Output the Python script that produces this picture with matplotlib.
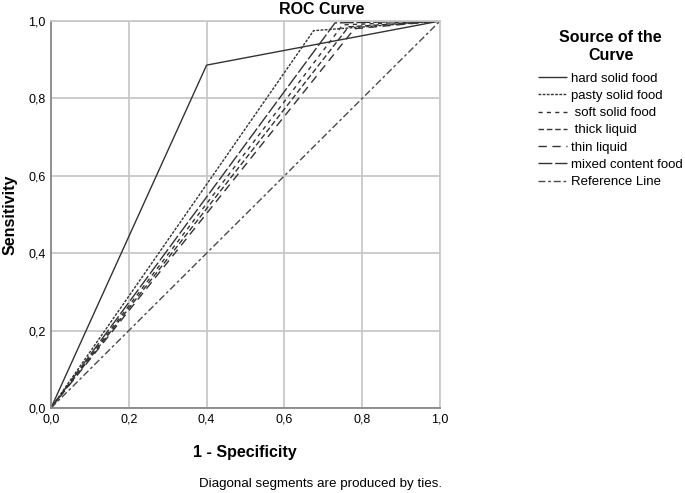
import matplotlib.pyplot as plt
from matplotlib.ticker import FuncFormatter

plt.rcParams['font.family'] = ['Liberation Sans', 'DejaVu Sans']

# ROC points (1 - specificity, sensitivity) for each source
curve_names = ["hard solid food", "pasty solid food", " soft solid food",
               " thick liquid", "thin liquid", "mixed content food"]
fpr_values = [
    [0.0, 0.40, 1.0],
    [0.0, 0.675, 1.0],
    [0.0, 0.75, 1.0],
    [0.0, 0.765, 1.0],
    [0.0, 0.78, 1.0],
    [0.0, 0.73, 1.0],
]
tpr_values = [
    [0.0, 0.886, 1.0],
    [0.0, 0.975, 1.0],
    [0.0, 0.99, 1.0],
    [0.0, 0.985, 1.0],
    [0.0, 0.98, 1.0],
    [0.0, 0.995, 1.0],
]
ref_x = [0.0, 1.0]
ref_y = [0.0, 1.0]
tick_values = [0.0, 0.2, 0.4, 0.6, 0.8, 1.0]

dash_styles = [
    (0, ()),
    (0, (2, 1)),
    (0, (3, 3)),
    (0, (4, 2)),
    (0, (6, 4)),
    (0, (10, 2)),
]

fig = plt.figure(figsize=(6.85, 4.93), dpi=100)
ax = fig.add_axes([51 / 685, 1 - 408 / 493, 389 / 685, 387 / 493])

lines = []
for name, xs, ys, ls in zip(curve_names, fpr_values, tpr_values, dash_styles):
    ln, = ax.plot(xs, ys, color='#333333', lw=1.0, linestyle=ls, label=name)
    lines.append(ln)
ln, = ax.plot(ref_x, ref_y, color='#4a4a4a', lw=1.0,
              linestyle=(0, (5, 2, 2, 2)), label="Reference Line")
lines.append(ln)

ax.set_xlim(0, 1)
ax.set_ylim(0, 1)
ax.set_xticks(tick_values)
ax.set_yticks(tick_values)
fmt = FuncFormatter(lambda v, p: f"{v:.1f}".replace('.', ','))
ax.xaxis.set_major_formatter(fmt)
ax.yaxis.set_major_formatter(fmt)
ax.tick_params(length=0, labelsize=9, pad=4, colors='black')
ax.grid(True, color='#c8c8c8', lw=1.3)
ax.set_axisbelow(True)
for side in ['top', 'right']:
    ax.spines[side].set_color('#c8c8c8')
    ax.spines[side].set_linewidth(1.3)
for side in ['left', 'bottom']:
    ax.spines[side].set_color('#888888')
    ax.spines[side].set_linewidth(1.3)

fig.text(322 / 685, 1 - 9 / 493, "ROC Curve", ha='center', va='center',
         fontsize=11.5, fontweight='bold')
fig.text(10 / 685, 1 - 215 / 493, "Sensitivity", ha='center', va='center',
         rotation=90, fontsize=11.5, fontweight='bold')
fig.text(245 / 685, 1 - 452 / 493, "1 - Specificity", ha='center', va='center',
         fontsize=11.5, fontweight='bold')
fig.text(321 / 685, 1 - 484 / 493, "Diagonal segments are produced by ties.",
         ha='center', va='center', fontsize=9.6)

leg = fig.legend(handles=lines, loc='upper left',
                 bbox_to_anchor=(533 / 685, 1 - 25 / 493),
                 title="Source of the\nCurve", frameon=False, fontsize=9.5,
                 handlelength=2.2, handletextpad=0.3, labelspacing=0.38,
                 borderaxespad=0)
leg.get_title().set_fontweight('bold')
leg.get_title().set_fontsize(11.5)
leg.get_title().set_multialignment('center')
leg._legend_box.sep = 7

fig.savefig("out.png", dpi=100)
